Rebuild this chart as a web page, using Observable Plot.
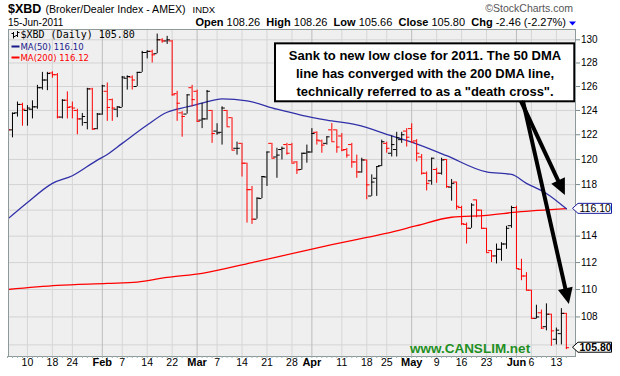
<!DOCTYPE html>
<html>
<head>
<meta charset="utf-8">
<script src="https://cdn.jsdelivr.net/npm/d3@7"></script>
<script src="https://cdn.jsdelivr.net/npm/@observablehq/plot@0.6"></script>
<style>
html,body{margin:0;padding:0;background:#fff;}
#chart{width:620px;height:376px;}
</style>
</head>
<body>
<div id="chart"></div>
<script>
// ---- data ----
const dates = [
"2011-01-04","2011-01-05","2011-01-06","2011-01-07","2011-01-10","2011-01-11","2011-01-12","2011-01-13","2011-01-14","2011-01-18","2011-01-19","2011-01-20","2011-01-21","2011-01-24","2011-01-25","2011-01-26","2011-01-27","2011-01-28","2011-01-31",
"2011-02-01","2011-02-02","2011-02-03","2011-02-04","2011-02-07","2011-02-08","2011-02-09","2011-02-10","2011-02-11","2011-02-14","2011-02-15","2011-02-16","2011-02-17","2011-02-18","2011-02-22","2011-02-23","2011-02-24","2011-02-25","2011-02-28",
"2011-03-01","2011-03-02","2011-03-03","2011-03-04","2011-03-07","2011-03-08","2011-03-09","2011-03-10","2011-03-11","2011-03-14","2011-03-15","2011-03-16","2011-03-17","2011-03-18","2011-03-21","2011-03-22","2011-03-23","2011-03-24","2011-03-25","2011-03-28","2011-03-29","2011-03-30","2011-03-31",
"2011-04-01","2011-04-04","2011-04-05","2011-04-06","2011-04-07","2011-04-08","2011-04-11","2011-04-12","2011-04-13","2011-04-14","2011-04-15","2011-04-18","2011-04-19","2011-04-20","2011-04-21","2011-04-25","2011-04-26","2011-04-27","2011-04-28","2011-04-29",
"2011-05-02","2011-05-03","2011-05-04","2011-05-05","2011-05-06","2011-05-09","2011-05-10","2011-05-11","2011-05-12","2011-05-13","2011-05-16","2011-05-17","2011-05-18","2011-05-19","2011-05-20","2011-05-23","2011-05-24","2011-05-25","2011-05-26","2011-05-27","2011-05-31",
"2011-06-01","2011-06-02","2011-06-03","2011-06-06","2011-06-07","2011-06-08","2011-06-09","2011-06-10","2011-06-13","2011-06-14","2011-06-15"];

const open = [
123.4,122.4,123.8,124.5,124.0,124.1,124.3,125.9,126.55,127.15,127.0,123.45,124.85,124.3,124.0,123.3,123.0,125.8,122.5,
123.7,125.6,124.9,124.1,124.25,126.7,126.8,126.0,127.2,128.9,129.0,128.8,130.0,129.9,129.9,125.4,123.8,123.7,125.9,
125.6,123.2,123.3,124.0,122.3,122.2,124.0,123.4,120.9,121.3,119.7,117.6,115.3,116.9,118.6,121.3,120.2,120.8,121.2,121.2,119.8,119.2,120.5,
120.6,122.2,121.5,121.3,122.4,122.4,121.9,120.8,121.2,119.8,119.0,119.96,117.1,118.5,119.5,121.3,120.5,120.8,121.6,122.3,
122.5,121.5,120.2,118.9,118.3,119.2,118.9,120.0,117.8,118.2,116.2,114.9,114.6,116.8,116.0,114.6,112.9,112.5,113.0,113.4,114.8,
116.2,111.5,111.0,109.95,107.9,108.3,107.3,108.2,106.4,106.8,108.26];

const high = [
123.6,123.8,124.7,124.6,124.4,124.8,126.1,127.2,127.2,127.25,127.1,124.9,125.55,124.7,124.1,123.75,125.85,125.85,123.75,
126.1,126.3,124.95,124.3,126.85,126.9,126.9,127.2,129.0,129.05,129.1,130.5,130.1,130.3,129.95,125.6,123.9,125.3,126.1,
125.7,124.6,125.67,124.0,122.9,124.3,124.0,123.4,121.4,121.3,119.7,117.85,116.94,118.64,120.6,121.3,120.9,121.0,121.3,121.3,119.83,120.5,121.16,
122.5,122.24,121.56,121.83,122.92,122.4,122.1,120.89,121.3,120.35,120.1,119.96,118.77,119.43,121.56,121.4,121.9,122.2,122.2,122.5,
122.9,121.6,120.4,119.0,120.1,119.3,120.1,120.0,118.4,118.2,116.3,115.0,116.5,116.8,116.0,114.6,112.9,113.4,113.5,114.75,116.3,
116.3,112.25,111.25,109.95,108.85,108.5,108.95,108.2,107.2,108.6,108.26];

const low = [
122.2,121.75,123.45,122.7,122.7,123.3,124.1,125.7,125.65,126.7,123.3,123.3,123.3,123.3,122.0,122.7,122.4,122.4,122.4,
123.6,123.1,123.1,123.4,124.25,125.7,125.7,126.0,127.2,128.35,128.0,128.8,129.7,129.6,125.2,123.1,121.8,123.7,124.3,
123.05,122.5,123.2,121.3,121.96,121.16,122.65,120.75,120.35,118.6,115.0,114.9,115.3,116.9,117.85,120.1,118.5,119.96,120.35,119.7,118.8,119.16,119.7,
120.5,121.16,120.5,121.16,121.43,120.5,120.62,120.1,119.3,118.5,118.9,116.81,117.07,117.07,119.43,120.5,120.2,120.2,121.3,121.0,
121.3,119.8,118.75,117.5,117.95,118.1,118.75,117.7,116.7,116.0,114.8,113.4,114.6,115.4,114.5,112.75,112.0,111.9,112.1,113.0,114.6,
111.5,110.65,109.9,107.85,107.85,107.1,107.0,105.9,106.0,106.0,105.66];

const close = [
122.4,123.75,124.5,124.1,124.2,124.3,125.9,126.55,127.1,127.0,123.45,124.85,124.25,124.2,123.3,123.5,125.8,122.45,123.7,
126.05,124.25,124.2,124.3,126.8,126.85,126.55,127.2,128.9,129.0,128.7,130.0,129.9,130.0,125.3,124.6,123.5,125.3,124.9,
123.1,123.3,125.6,122.1,122.15,124.2,122.65,120.75,120.9,119.7,117.6,115.3,116.94,118.64,120.6,120.1,120.35,120.9,120.5,119.7,119.16,120.5,120.6,
122.1,121.56,121.16,121.83,121.43,121.0,120.75,120.35,119.8,119.0,119.96,117.98,118.2,119.43,121.43,120.9,121.2,121.75,122.0,121.8,
121.4,120.5,118.9,118.1,120.1,118.9,119.96,117.85,118.1,116.3,114.95,114.6,116.4,116.0,114.6,112.75,112.5,113.0,113.4,114.6,116.2,
111.55,111.0,109.95,107.9,108.0,107.2,108.2,107.0,107.05,108.26,105.8];

// 50-day moving average, read at sampled dates
const ma50Dates = ["2011-01-04","2011-01-10","2011-01-18","2011-01-24","2011-01-31","2011-02-02","2011-02-07","2011-02-14","2011-02-18","2011-02-23","2011-03-02","2011-03-08","2011-03-15","2011-03-23","2011-03-30","2011-04-06","2011-04-14","2011-04-26","2011-05-02","2011-05-11","2011-05-23","2011-05-31","2011-06-03","2011-06-09","2011-06-15"];
const ma50Values = [115.3,116.6,118.1,118.7,119.95,120.4,121.3,122.8,123.85,124.1,124.6,124.97,124.8,124.1,123.6,123.2,122.8,121.9,121.4,120.3,119.0,118.8,118.1,117.3,116.1];

// 200-day moving average, read at sampled dates
const ma200Dates = ["2011-01-04","2011-01-19","2011-02-02","2011-02-10","2011-02-18","2011-03-02","2011-03-16","2011-03-30","2011-04-07","2011-04-18","2011-04-26","2011-05-03","2011-05-12","2011-05-23","2011-06-01","2011-06-15"];
const ma200Values = [110.0,110.3,110.45,110.55,110.9,111.2,112.0,112.85,113.35,113.9,114.3,114.8,115.45,115.6,115.85,116.12];

// axis ticks
const tickDates = ["2011-01-10","2011-01-18","2011-01-24","2011-02-01","2011-02-07","2011-02-14","2011-02-22","2011-03-01","2011-03-07","2011-03-14","2011-03-21","2011-03-28","2011-04-01","2011-04-11","2011-04-18","2011-04-25","2011-05-02","2011-05-09","2011-05-16","2011-05-23","2011-06-01","2011-06-06","2011-06-13"];
const tickLabels = ["10","18","24","Feb","7","14","22","Mar","7","14","21","28","Apr","11","18","25","May","9","16","23","Jun","6","13"];
const priceTicks = [108,110,112,114,118,120,122,124,126,128,130];
const gridPrices = [106,108,110,112,114,116,118,120,122,124,126,128,130];

// annotation (trading-day index, price)
const noteText = 'Sank to new low close for 2011. The 50 DMA\nline has converged with the 200 DMA line,\ntechnically referred to as a "death cross".';
const noteBoxX = [54.71, 114.69];
const noteBoxY = [124.72, 129.65];
const noteTextPos = [84.67, 127.25];
const arrowX1 = [104.0, 104.4], arrowY1 = [124.74, 124.74];
const arrowX2 = [112.8, 113.6], arrowY2 = [117.14, 108.9];

// ---- build ----
const idxOf = new Map(dates.map((d, k) => [d, k + 1]));
const bars = dates.map((d, k) => ({
  i: k + 1, o: open[k], h: high[k], l: low[k], c: close[k],
  up: k > 0 && close[k] > close[k - 1]
}));
const colr = d => d.up ? "#000000" : "#ff0000";
const ma50 = ma50Dates.map((d, k) => ({i: idxOf.get(d), v: ma50Values[k]}));
const ma200 = ma200Dates.map((d, k) => ({i: idxOf.get(d), v: ma200Values[k]}));
const ticks = tickDates.map((d, k) => ({i: idxOf.get(d), label: tickLabels[k], month: isNaN(+tickLabels[k])}));
const FONT = '"Liberation Sans", Arial, sans-serif';

const plot = Plot.plot({
  width: 620, height: 376,
  marginLeft: 8, marginRight: 45, marginTop: 29, marginBottom: 20,
  style: {background: "transparent", fontFamily: FONT, fontSize: "10px", color: "#000", overflow: "visible"},
  x: {type: "linear", domain: [1.202, 114.83], axis: null, label: null},
  y: {type: "log", domain: [105.18, 130.9], axis: null, label: null},
  marks: [
    Plot.frame({fill: "#efefef", stroke: null}),
    Plot.ruleY(gridPrices, {stroke: "#d3d3d3", strokeWidth: 1}),
    Plot.ruleX(ticks, {x: "i", stroke: d => d.month ? "#bcbcbc" : "#d6d6d6", strokeWidth: 1}),
    Plot.line(ma200, {x: "i", y: "v", stroke: "#ff0000", strokeWidth: 1.3, curve: "monotone-x", clip: true}),
    Plot.line(ma50, {x: "i", y: "v", stroke: "#3030a8", strokeWidth: 1.3, curve: "monotone-x", clip: true}),
    Plot.ruleX(bars, {x: "i", y1: "l", y2: "h", stroke: colr, strokeWidth: 1, clip: true}),
    Plot.ruleY(bars, {y: "o", x1: d => d.i - 0.65, x2: "i", stroke: colr, strokeWidth: 1, clip: true}),
    Plot.ruleY(bars, {y: "c", x1: "i", x2: d => d.i + 0.65, stroke: colr, strokeWidth: 1, clip: true}),
    Plot.rect([0], {x1: () => noteBoxX[0], x2: () => noteBoxX[1], y1: () => noteBoxY[0], y2: () => noteBoxY[1], fill: "#ffffff", stroke: "#000", strokeWidth: 2}),
    Plot.text([noteText], {x: () => noteTextPos[0], y: () => noteTextPos[1], text: d => d, fontSize: 13, fontWeight: "bold", lineHeight: 1.385, fill: "#000", textAnchor: "middle"}),
    Plot.frame({stroke: "#8e9a9a", strokeWidth: 1}),
    Plot.axisX({ticks: dates.map((d, k) => k + 1), tickSize: 2, tickFormat: () => "", stroke: "#9aacac", label: null}),
    Plot.axisY(priceTicks, {anchor: "right", tickSize: 4, tickPadding: 1.5, fontSize: 10, tickFormat: d => String(d), stroke: "#7a8a8a", fill: "#000", label: null}),
    Plot.text(ticks.filter(t => !t.month), {x: "i", text: "label", frameAnchor: "bottom", dy: 9.5, fontSize: 10.5, fill: "#000"}),
    Plot.text(ticks.filter(t => t.month), {x: "i", text: "label", frameAnchor: "bottom", dy: 9.5, fontSize: 11, fontWeight: "bold", fill: "#000"})
  ]
});
document.getElementById("chart").appendChild(plot);

// ---- decorations positioned with the plot's own scales ----
const sx = plot.scale("x"), sy = plot.scale("y");
const svg = d3.select(plot);
const g = svg.append("g").attr("text-anchor", "start");

// arrows
arrowX1.forEach((_, k) => {
  const x1 = sx.apply(arrowX1[k]), y1 = sy.apply(arrowY1[k]);
  const x2 = sx.apply(arrowX2[k]), y2 = sy.apply(arrowY2[k]);
  const dx = x2 - x1, dy = y2 - y1, L = Math.hypot(dx, dy), ux = dx / L, uy = dy / L;
  const hl = 16, hw = 7.5;
  const bx = x2 - ux * hl, by = y2 - uy * hl;
  g.append("line").attr("x1", x1).attr("y1", y1).attr("x2", bx + ux * 2).attr("y2", by + uy * 2)
    .attr("stroke", "#000").attr("stroke-width", 4);
  g.append("path").attr("d", `M${x2},${y2}L${bx - uy * hw},${by + ux * hw}L${bx + uy * hw},${by - ux * hw}Z`).attr("fill", "#000");
});

// text helper
function t(x, y, s, o = {}) {
  const e = g.append("text").attr("x", x).attr("y", y).text(s)
    .attr("font-family", o.family || FONT).attr("font-size", o.size || 10)
    .attr("font-weight", o.weight || "normal").attr("fill", o.fill || "#000")
    .attr("text-anchor", o.anchor || "start");
  if (o.ls) e.attr("letter-spacing", o.ls);
  return e;
}

// price boxes on the right axis
function priceBox(v, label, stroke, bold) {
  const y = sy.apply(v);
  const x0 = 572.5, x1 = 578, x2 = 611.5, h = 5;
  g.append("path").attr("d", `M${x0},${y}L${x1},${y - h}L${x2},${y - h}L${x2},${y + h}L${x1},${y + h}Z`)
    .attr("fill", "#fff").attr("stroke", stroke).attr("stroke-width", 1);
  t(579.5, y + 3.6, label, {size: 10.5, weight: bold ? "bold" : "normal"});
}
priceBox(ma50Values[ma50Values.length - 1], "116.10", "#1a1aa0", false);
priceBox(close[close.length - 1], "105.80", "#000", true);

// header
t(8, 13, "$XBD", {size: 12.5, weight: "bold"});
t(45.5, 13, "(Broker/Dealer Index - AMEX)", {size: 10.6});
t(192.5, 13, "INDX", {size: 9.5});
t(8, 26, "15-Jun-2011", {size: 10});
t(573, 12, "\u00A9StockCharts.com", {size: 10.5, fill: "#555", anchor: "end"});
const hdr = g.append("text").attr("x", 566).attr("y", 26).attr("text-anchor", "end")
  .attr("font-family", FONT).attr("font-size", 11).attr("fill", "#000").style("white-space", "pre");
[["Open", true], [" 108.26  ", false], ["High", true], [" 108.26  ", false], ["Low", true], [" 105.66  ", false],
 ["Close", true], [" 105.80  ", false], ["Chg", true], [" -2.46 (-2.27%)", false]]
  .forEach(([s, b]) => hdr.append("tspan").attr("font-weight", b ? "bold" : "normal").text(s));
g.append("path").attr("d", "M569,21.5L576,21.5L572.5,25.5Z").attr("fill", "#0000ff");

// legend inside the plot
const icon = g.append("g").attr("stroke", "#000").attr("stroke-width", 1).attr("fill", "none");
icon.append("path").attr("d", "M13.5,32V38.5M11.5,33.5H13.5M13.5,36.5H15.5M17.5,31V37M15.5,35.5H17.5M17.5,32.5H19.5");
t(20.5, 38, "$XBD (Daily) 105.80", {family: '"DejaVu Sans Mono", monospace', size: 10});
g.append("rect").attr("x", 11.5).attr("y", 45.5).attr("width", 8).attr("height", 2).attr("fill", "#1a1a8c");
t(20.5, 49.5, "MA(50) 116.10", {family: '"DejaVu Sans", Verdana, sans-serif', size: 8.5, fill: "#1a1a8c"});
g.append("rect").attr("x", 11.5).attr("y", 56.5).attr("width", 8).attr("height", 2).attr("fill", "#ff0000");
t(20.5, 60.5, "MA(200) 116.12", {family: '"DejaVu Sans", Verdana, sans-serif', size: 8.5, fill: "#ff0000"});

// watermark
t(470, 353, "www.CANSLIM.net", {size: 13.5, weight: "bold", fill: "#1f8f1f", anchor: "middle"});
</script>
</body>
</html>
